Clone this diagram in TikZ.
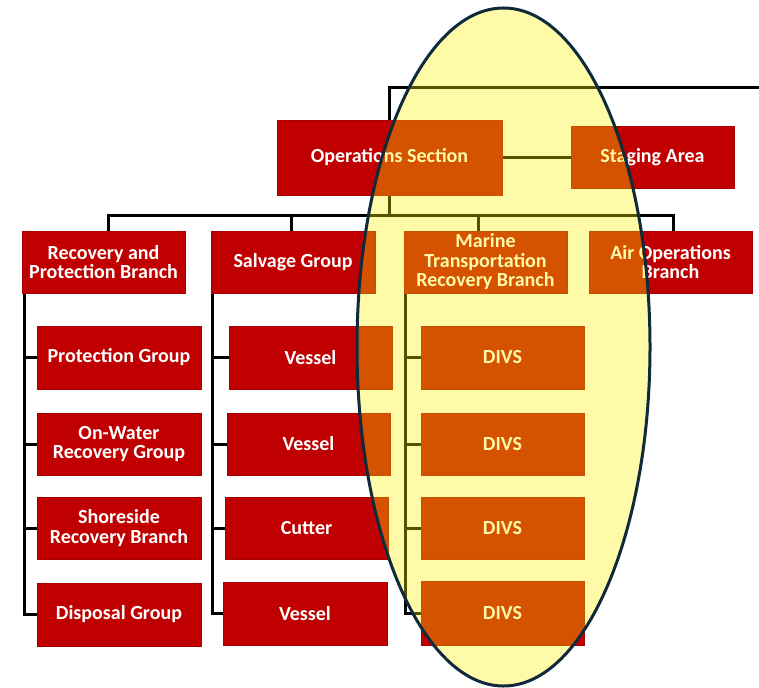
\documentclass[tikz,border=0pt]{standalone}
\usepackage{fontspec}
\setmainfont{Carlito}
\usetikzlibrary{backgrounds}
\definecolor{boxred}{HTML}{C00000}
\definecolor{edgered}{HTML}{A80000}
\definecolor{ringnavy}{HTML}{0E2A3B}
\begin{document}
\begin{tikzpicture}[x=1pt,y=-1pt,
  box/.style={rectangle, fill=boxred, draw=edgered, line width=0.6pt, text=white,
    font=\fontsize{20}{19.5}\selectfont\bfseries, align=center, inner sep=1pt},
  conn/.style={draw=black, line width=3pt}
]
\useasboundingbox (0,0) rectangle (759,687);

% nodes
\node[box, minimum width=225, minimum height=75] (ops) at (389.5,157.5) {Operations Section};
\node[box, minimum width=163, minimum height=62] (stag) at (652.5,157) {Staging Area};
\node[box, minimum width=163, minimum height=62] (rpb) at (103.5,262) {Recovery and\\Protection Branch};
\node[box, minimum width=164, minimum height=62] (sg) at (293,262) {Salvage Group};
\node[box, minimum width=163, minimum height=62] (mtr) at (485.5,262) {Marine\\Transportation\\Recovery Branch};
\node[box, minimum width=163, minimum height=62] (aob) at (670.5,262) {Air Operations\\Branch};

\node[box, minimum width=164, minimum height=63] (pg) at (119,357.5) {Protection Group};
\node[box, minimum width=164, minimum height=62] (owr) at (119,444) {On-Water\\Recovery Group};
\node[box, minimum width=164, minimum height=62] (srb) at (119,528) {Shoreside\\Recovery Branch};
\node[box, minimum width=164, minimum height=63] (dg) at (119,614.5) {Disposal Group};

\node[box, minimum width=163, minimum height=63] (v1) at (310.5,357.5) {Vessel};
\node[box, minimum width=163, minimum height=62] (v2) at (308.5,444) {Vessel};
\node[box, minimum width=163, minimum height=62] (cu) at (306.5,528) {Cutter};
\node[box, minimum width=164, minimum height=63] (v3) at (305,613.5) {Vessel};

\node[box, minimum width=163, minimum height=63] (d1) at (502.5,357.5) {DIVS};
\node[box, minimum width=163, minimum height=62] (d2) at (502.5,444) {DIVS};
\node[box, minimum width=163, minimum height=62] (d3) at (502.5,528) {DIVS};
\node[box, minimum width=163, minimum height=64] (d4) at (502.5,613) {DIVS};

\coordinate (topR) at (759,88);
\coordinate (bus) at (389.5,215);

% connectors (behind boxes)
\begin{scope}[on background layer]
\fill[white] (0,0) rectangle (759,687);
\draw[conn] (topR) -| (ops.north);
\draw[conn] (ops.east) -- (ops.east -| stag.west);
\draw[conn] (ops.south) -- (bus);
\draw[conn] ([xshift=4.5]rpb.north) |- (bus) -| ([xshift=2.5]aob.north);
\draw[conn] ([xshift=-2]sg.north) -- ([xshift=-2]sg.north |- bus);
\draw[conn] ([xshift=-7.5]mtr.north) -- ([xshift=-7.5]mtr.north |- bus);

\draw[conn] ([xshift=3]rpb.south west) |- (dg.west);
\foreach \n in {pg,owr,srb} \draw[conn] ([xshift=3]rpb.south west) |- (\n.west);
\draw[conn] ([xshift=2]sg.south west) |- (v3.west);
\foreach \n in {v1,v2,cu} \draw[conn] ([xshift=2]sg.south west) |- (\n.west);
\draw[conn] ([xshift=2]mtr.south west) |- (d4.west);
\foreach \n in {d1,d2,d3} \draw[conn] ([xshift=2]mtr.south west) |- (\n.west);
\end{scope}

% highlight ellipse
\fill[yellow, opacity=0.34] (503.5,347) ellipse [x radius=146.5pt, y radius=339pt];
\draw[ringnavy, line width=3pt] (503.5,347) ellipse [x radius=146.5pt, y radius=339pt];
\end{tikzpicture}
\end{document}
